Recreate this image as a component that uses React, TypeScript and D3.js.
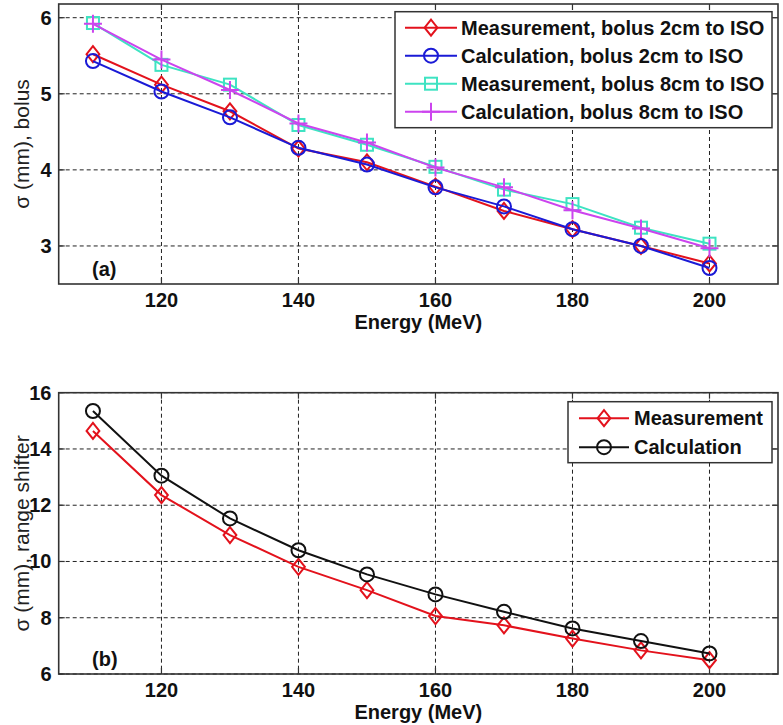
import React from "react";
import * as d3 from "d3";

const energy = [110, 120, 130, 140, 150, 160, 170, 180, 190, 200];
const measBolus2 = [5.52, 5.12, 4.77, 4.28, 4.1, 3.78, 3.46, 3.22, 3.0, 2.77];
const calcBolus2 = [5.43, 5.03, 4.69, 4.29, 4.07, 3.77, 3.52, 3.22, 3.0, 2.71];
const measBolus8 = [5.93, 5.38, 5.12, 4.59, 4.33, 4.04, 3.74, 3.55, 3.24, 3.03];
const calcBolus8 = [5.92, 5.45, 5.05, 4.61, 4.36, 4.03, 3.77, 3.47, 3.23, 2.97];
const measShifter = [14.64, 12.36, 10.94, 9.81, 8.98, 8.06, 7.73, 7.26, 6.84, 6.49];
const calcShifter = [15.35, 13.05, 11.53, 10.4, 9.54, 8.83, 8.21, 7.62, 7.17, 6.73];

const xTicks = [120, 140, 160, 180, 200];
const yTicksA = [3, 4, 5, 6];
const yTicksB = [6, 8, 10, 12, 14, 16];

const seriesA = [
  { name: "Measurement, bolus 2cm to ISO", values: measBolus2, color: "#e3121c", marker: "diamond" },
  { name: "Calculation, bolus 2cm to ISO", values: calcBolus2, color: "#1a1ad6", marker: "circle" },
  { name: "Measurement, bolus 8cm to ISO", values: measBolus8, color: "#3ee3c2", marker: "square" },
  { name: "Calculation, bolus 8cm to ISO", values: calcBolus8, color: "#cc44ee", marker: "plus" },
];
const seriesB = [
  { name: "Measurement", values: measShifter, color: "#e3121c", marker: "diamond" },
  { name: "Calculation", values: calcShifter, color: "#111111", marker: "circle" },
];

const FONT = "'Liberation Sans', Arial, sans-serif";

function Marker({ type, x, y, color }: { type: string; x: number; y: number; color: string }) {
  const common = { fill: "none", stroke: color, strokeWidth: 2 };
  if (type === "circle") return <circle cx={x} cy={y} r={7} {...common} />;
  if (type === "diamond") {
    const s = 8;
    return <path d={`M${x},${y - s}L${x + s * 0.8},${y}L${x},${y + s}L${x - s * 0.8},${y}Z`} {...common} />;
  }
  if (type === "square") {
    const s = 6;
    return <rect x={x - s} y={y - s} width={2 * s} height={2 * s} {...common} />;
  }
  const s = 9;
  return <path d={`M${x - s},${y}H${x + s}M${x},${y - s}V${y + s}`} {...common} />;
}

type Series = { name: string; values: number[]; color: string; marker: string };

function Panel(props: {
  top: number;
  bottom: number;
  yDomain: [number, number];
  yTicks: number[];
  series: Series[];
  yLabel: string;
  tag: string;
  legend: { x0: number; y0: number; x1: number; y1: number; rowH: number; lineX0: number; lineX1: number; textX: number };
}) {
  const { top, bottom, yDomain, yTicks, series, yLabel, tag, legend } = props;
  const left = 58.7;
  const right = 778;
  const x = d3.scaleLinear().domain([105, 210]).range([left, right]);
  const y = d3.scaleLinear().domain(yDomain).range([bottom, top]);
  const line = d3
    .line<number>()
    .x((_, i) => x(energy[i]))
    .y((d) => y(d));
  const axisColor = "#333";
  return (
    <g>
      <rect x={left} y={top} width={right - left} height={bottom - top} fill="#fff" />
      {xTicks.map((t) => (
        <line key={"gx" + t} x1={x(t)} x2={x(t)} y1={top} y2={bottom} stroke="#222" strokeWidth={1} strokeDasharray="4,3" />
      ))}
      {yTicks.map((t) => (
        <line key={"gy" + t} x1={left} x2={right} y1={y(t)} y2={y(t)} stroke="#222" strokeWidth={1} strokeDasharray="4,3" />
      ))}
      {xTicks.map((t) => (
        <g key={"tx" + t}>
          <line x1={x(t)} x2={x(t)} y1={bottom} y2={bottom - 6} stroke={axisColor} strokeWidth={1.2} />
          <line x1={x(t)} x2={x(t)} y1={top} y2={top + 6} stroke={axisColor} strokeWidth={1.2} />
          <text x={x(t)} y={bottom + 23} textAnchor="middle" fontFamily={FONT} fontWeight="bold" fontSize={20} fill="#111">
            {t}
          </text>
        </g>
      ))}
      {yTicks.map((t) => (
        <g key={"ty" + t}>
          <line x1={left} x2={left + 6} y1={y(t)} y2={y(t)} stroke={axisColor} strokeWidth={1.2} />
          <line x1={right} x2={right - 6} y1={y(t)} y2={y(t)} stroke={axisColor} strokeWidth={1.2} />
          <text x={51.5} y={y(t) + 7} textAnchor="end" fontFamily={FONT} fontWeight="bold" fontSize={20} fill="#111">
            {t}
          </text>
        </g>
      ))}
      <rect x={left} y={top} width={right - left} height={bottom - top} fill="none" stroke={axisColor} strokeWidth={1.6} />
      {series.map((s) => (
        <g key={s.name}>
          <path d={line(s.values) || ""} fill="none" stroke={s.color} strokeWidth={2} />
          {s.values.map((v, i) => (
            <Marker key={i} type={s.marker} x={x(energy[i])} y={y(v)} color={s.color} />
          ))}
        </g>
      ))}
      <text x={92} y={bottom - 8} fontFamily={FONT} fontWeight="bold" fontSize={20} fill="#111">
        {tag}
      </text>
      <text x={(left + right) / 2} y={bottom + 45} textAnchor="middle" fontFamily={FONT} fontWeight="bold" fontSize={20} fill="#111">
        Energy (MeV)
      </text>
      <text
        transform={`translate(${29},${(top + bottom) / 2}) rotate(-90)`}
        textAnchor="middle"
        fontFamily={FONT}
        fontSize={21}
        fill="#222"
      >
        {yLabel}
      </text>
      <rect
        x={legend.x0}
        y={legend.y0}
        width={legend.x1 - legend.x0}
        height={legend.y1 - legend.y0}
        fill="#fff"
        stroke="#333"
        strokeWidth={1.5}
      />
      {series.map((s, i) => {
        const cy = legend.y0 + legend.rowH * (i + 0.5) + 2;
        const mx = (legend.lineX0 + legend.lineX1) / 2;
        return (
          <g key={"lg" + i}>
            <line x1={legend.lineX0} x2={legend.lineX1} y1={cy} y2={cy} stroke={s.color} strokeWidth={2} />
            <Marker type={s.marker} x={mx} y={cy} color={s.color} />
            <text x={legend.textX} y={cy + 7} fontFamily={FONT} fontWeight="bold" fontSize={20} fill="#111">
              {s.name}
            </text>
          </g>
        );
      })}
    </g>
  );
}

export default function App() {
  return (
    <div style={{ position: "absolute", left: 0, top: 0 }}>
      <svg width={783} height={725} style={{ display: "block", background: "#fff" }}>
        <Panel
          top={4}
          bottom={284}
          yDomain={[2.5, 6.18]}
          yTicks={yTicksA}
          series={seriesA}
          yLabel="σ (mm), bolus"
          tag="(a)"
          legend={{ x0: 395, y0: 11.7, x1: 772, y1: 127.7, rowH: 28, lineX0: 405, lineX1: 457, textX: 461 }}
        />
        <Panel
          top={392.7}
          bottom={674}
          yDomain={[6, 16]}
          yTicks={yTicksB}
          series={seriesB}
          yLabel="σ (mm), range shifter"
          tag="(b)"
          legend={{ x0: 568, y0: 401.7, x1: 772, y1: 462.7, rowH: 29, lineX0: 579, lineX1: 629, textX: 634 }}
        />
      </svg>
    </div>
  );
}
